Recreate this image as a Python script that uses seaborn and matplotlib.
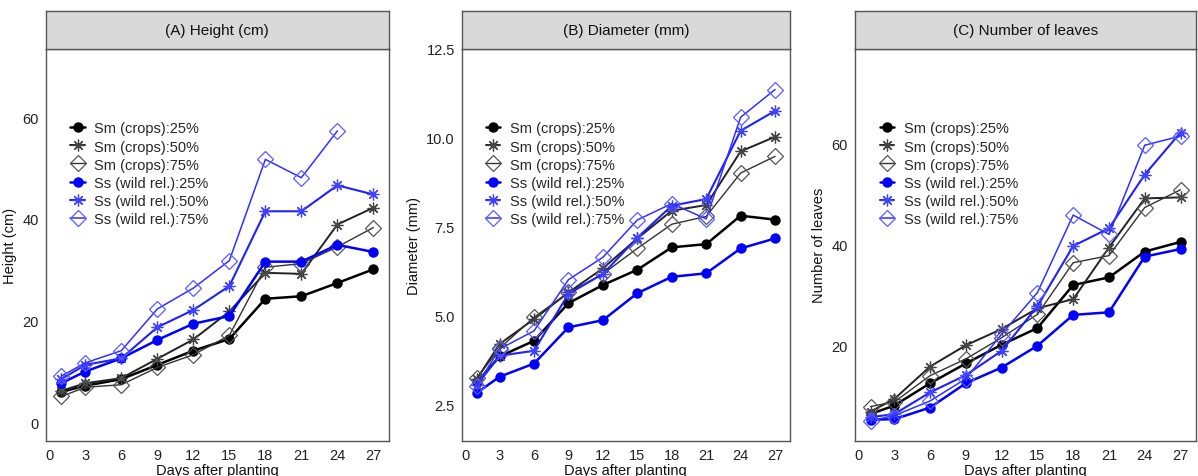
import matplotlib
matplotlib.use("Agg")
import matplotlib.pyplot as plt
import numpy as np
import pandas as pd
import seaborn as sns

days = [1, 3, 6, 9, 12, 15, 18, 21, 24, 27]

series_names = ["Sm (crops):25%", "Sm (crops):50%", "Sm (crops):75%",
                "Ss (wild rel.):25%", "Ss (wild rel.):50%", "Ss (wild rel.):75%"]

# (A) Height (cm)
height_sm25 = [6.0, 7.2, 8.5, 11.3, 14.1, 16.4, 24.3, 24.8, 27.4, 30.1]
height_sm50 = [6.2, 7.7, 8.7, 12.5, 16.3, 21.8, 29.4, 29.2, 38.9, 42.2]
height_sm75 = [5.1, 6.9, 7.4, 10.8, 13.3, 17.1, 30.5, 31.2, 34.5, 38.3]
height_ss25 = [7.7, 10.0, 12.6, 16.2, 19.4, 20.9, 31.6, 31.6, 34.9, 33.5]
height_ss50 = [8.5, 11.3, 12.6, 18.7, 22.1, 26.8, 41.5, 41.5, 46.6, 44.8]
height_ss75 = [9.1, 11.7, 14.1, 22.3, 26.4, 31.8, 51.7, 48.1, 57.3, np.nan]

# (B) Diameter (mm)
diam_sm25 = [3.12, 3.85, 4.29, 5.35, 5.86, 6.29, 6.92, 7.01, 7.81, 7.70]
diam_sm50 = [3.21, 4.20, 4.90, 5.65, 6.33, 7.17, 7.95, 8.11, 9.62, 10.03]
diam_sm75 = [3.23, 4.08, 4.95, 5.65, 6.17, 6.89, 7.57, 7.79, 9.01, 9.48]
diam_ss25 = [2.82, 3.28, 3.65, 4.67, 4.87, 5.63, 6.09, 6.19, 6.89, 7.17]
diam_ss50 = [3.04, 3.87, 4.01, 5.61, 6.17, 7.19, 8.09, 8.28, 10.20, 10.76]
diam_ss75 = [3.03, 4.06, 4.57, 6.01, 6.64, 7.69, 8.15, 7.72, 10.58, 11.36]

# (C) Number of leaves
leaves_sm25 = [6.5, 8.2, 12.6, 16.5, 20.2, 23.5, 32.0, 33.5, 38.6, 40.5]
leaves_sm50 = [7.0, 9.5, 15.9, 20.1, 23.3, 27.4, 29.2, 39.4, 49.1, 49.3]
leaves_sm75 = [8.0, 8.9, 14.1, 17.4, 21.6, 26.2, 36.4, 37.8, 47.3, 50.8]
leaves_ss25 = [5.4, 5.5, 7.8, 12.6, 15.7, 20.0, 26.1, 26.6, 37.6, 39.1]
leaves_ss50 = [5.9, 6.5, 10.8, 14.2, 19.0, 27.8, 39.7, 43.2, 53.8, 62.1]
leaves_ss75 = [5.2, 6.2, 9.1, 13.5, 22.3, 30.5, 45.8, 42.0, 59.6, 61.4]

panels = [
    ("(A) Height (cm)", "Height (cm)",
     [height_sm25, height_sm50, height_sm75, height_ss25, height_ss50, height_ss75],
     (-3.6, 73.4), [0, 20, 40, 60], ["0", "20", "40", "60"]),
    ("(B) Diameter (mm)", "Diameter (mm)",
     [diam_sm25, diam_sm50, diam_sm75, diam_ss25, diam_ss50, diam_ss75],
     (1.48, 12.5), [2.5, 5.0, 7.5, 10.0, 12.5], ["2.5", "5.0", "7.5", "10.0", "12.5"]),
    ("(C) Number of leaves", "Number of leaves",
     [leaves_sm25, leaves_sm50, leaves_sm75, leaves_ss25, leaves_ss50, leaves_ss75],
     (1.25, 78.6), [20, 40, 60], ["20", "40", "60"]),
]

# styles per series: line colour, marker colour, marker, filled, line width, marker size
styles = [
    ("black", "black", "o", True, 1.8, 7.5),
    ("#222222", "#444444", (8, 2, 0), False, 1.4, 8.5),
    ("#333333", "#555555", "D", False, 1.0, 8.0),
    ("#0000ff", "#0000ff", "o", True, 1.8, 7.5),
    ("#2020ff", "#4040ff", (8, 2, 0), False, 1.5, 8.5),
    ("#3030ff", "#5a5aff", "D", False, 1.1, 8.0),
]

sns.set_style("white")
plt.rcParams["font.family"] = ["Liberation Sans", "DejaVu Sans"]

W, H = 1198, 477
fig = plt.figure(figsize=(W / 100, H / 100), dpi=100)

boxes = [(45.7, 389.0), (461.7, 790.0), (855.0, 1196.0)]
ax_top, ax_bot = 50.0, 441.7
strip_top = 12.0

for (title, ylabel, data, ylim, yt, ytl), (x0, x1) in zip(panels, boxes):
    ax = fig.add_axes([x0 / W, (H - ax_bot) / H, (x1 - x0) / W, (ax_bot - ax_top) / H])
    for name, vals, (col, mcol, mk, filled, lw, ms) in zip(series_names, data, styles):
        df = pd.DataFrame({"day": days, "val": vals}).dropna()
        sns.lineplot(data=df, x="day", y="val", ax=ax, color=col, lw=lw,
                     marker=mk, markersize=ms,
                     markeredgewidth=0 if filled else 0.9,
                     markerfacecolor=mcol if filled else "none",
                     markeredgecolor=mcol, label=name)
    ax.set_xlim(-0.3, 28.3)
    ax.set_ylim(*ylim)
    ax.set_xticks([0, 3, 6, 9, 12, 15, 18, 21, 24, 27])
    ax.set_yticks(yt)
    ax.set_yticklabels(ytl)
    ax.set_xlabel("Days after planting", fontsize=10.5, labelpad=1, color="#111111")
    ax.set_ylabel(ylabel, fontsize=10.5, labelpad=4, color="#111111")
    ax.tick_params(axis="both", direction="out", length=3, width=0.8,
                   labelsize=10.5, colors="#444444", labelcolor="#222222", pad=2)
    for s in ax.spines.values():
        s.set_color("#555555")
        s.set_linewidth(1.0)
    ax.legend(loc="upper left", bbox_to_anchor=(0.055, 0.83), frameon=False,
              fontsize=10.5, handlelength=1.0, handletextpad=0.65,
              labelspacing=0.28, borderaxespad=0)

    sax = fig.add_axes([x0 / W, (H - ax_top) / H, (x1 - x0) / W, (ax_top - strip_top) / H])
    sax.set_facecolor("#d9d9d9")
    sax.set_xticks([])
    sax.set_yticks([])
    for s in sax.spines.values():
        s.set_color("#555555")
        s.set_linewidth(1.0)
    sax.text(0.5, 0.5, title, ha="center", va="center", fontsize=11, color="#111111",
             transform=sax.transAxes)

fig.savefig("out.png", dpi=100)
